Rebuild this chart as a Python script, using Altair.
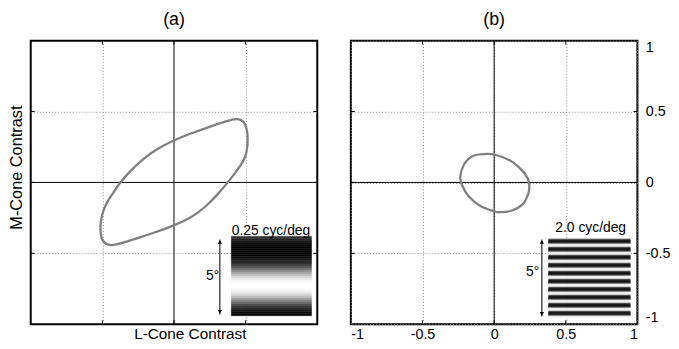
import altair as alt
import pandas as pd

# ---------------- data ----------------
# (a) detection contour, 0.25 cyc/deg  (L-cone, M-cone contrast)
a_L = [0.0, 0.124, 0.238, 0.353, 0.422, 0.472, 0.499, 0.515, 0.515, 0.499, 0.463, 0.422,
       0.376, 0.307, 0.227, 0.124, 0.0, -0.128, -0.243, -0.357, -0.431, -0.481, -0.509,
       -0.517, -0.504, -0.472, -0.426, -0.376, -0.312, -0.220, -0.105]
a_M = [0.298, 0.348, 0.389, 0.428, 0.449, 0.444, 0.412, 0.348, 0.257, 0.176, 0.115, 0.062,
       0.0, -0.082, -0.167, -0.247, -0.305, -0.351, -0.389, -0.426, -0.447, -0.435, -0.396,
       -0.316, -0.225, -0.144, -0.076, 0.0, 0.073, 0.165, 0.245]
# (b) detection contour, 2.0 cyc/deg
b_L = [-0.076, 0.0, 0.108, 0.188, 0.234, 0.245, 0.24, 0.2, 0.119, 0.039, 0.0,
       -0.0985, -0.179, -0.225, -0.236, -0.213, -0.156]
b_M = [0.20, 0.197, 0.156, 0.092, 0.03, -0.016, -0.073, -0.153, -0.2, -0.21, -0.204,
       -0.165, -0.096, -0.016, 0.041, 0.121, 0.183]

grid_values = [-0.5, 0.5]
tick_values = [-0.5, 0, 0.5]
b_label_values = [-1, -0.5, 0, 0.5, 1]

titles = ["(a)", "(b)"]
x_title = "L-Cone Contrast"
y_title = "M-Cone Contrast"
inset_labels = ["0.25 cyc/deg", "2.0 cyc/deg"]
size_label = "5°"

# grating luminance, rows from top to bottom (0 = black, 1 = white)
a_lum = [0.22, 0.15, 0.08, 0.04, 0.02, 0.0, 0.0, 0.0, 0.0, 0.02, 0.04, 0.07, 0.12, 0.18,
         0.26, 0.35, 0.45, 0.55, 0.65, 0.75, 0.84, 0.91, 0.96, 0.99, 1.0, 1.0, 0.99, 0.96,
         0.91, 0.84, 0.75, 0.64, 0.52, 0.41, 0.3, 0.21, 0.14, 0.08, 0.04, 0.02]
b_cycle_lum = [0.72, 0.1, 0.0, 0.0, 0.12, 0.6, 1.0, 0.95]
b_cycles = 10
b_lum = b_cycle_lum * b_cycles

FONT = "Liberation Sans"
W = 290
H = 287
GRAY = "#808080"


def hexgray(v):
    g = int(round(255 * v))
    return f"#{g:02x}{g:02x}{g:02x}"


def grating_df(lums, x0, x1, ytop, ybot):
    n = len(lums)
    step = (ytop - ybot) / n
    return pd.DataFrame({
        "x": [x0] * n, "x2": [x1] * n,
        "y": [ytop - i * step for i in range(n)],
        "y2": [ytop - (i + 1) * step for i in range(n)],
        "c": [hexgray(v) for v in lums],
    })


def panel(title, L, M, interp, lums, box, label, label_pos, arrow, five_pos, x_axis, y_axis):
    sc = alt.Scale(domain=[-1, 1], nice=False, zero=False)

    def X(f="x"):
        return alt.X(f"{f}:Q", scale=sc, axis=x_axis)

    def Y(f="y"):
        return alt.Y(f"{f}:Q", scale=sc, axis=y_axis)

    zero = pd.DataFrame({"x": [0.0], "y": [0.0]})
    vline = alt.Chart(zero).mark_rule(color="black", strokeWidth=1).encode(x=X())
    hline = alt.Chart(zero).mark_rule(color="black", strokeWidth=1).encode(y=Y())

    tk = pd.DataFrame({"x": tick_values, "y": tick_values})
    tb = alt.Chart(tk).mark_rule(color="black", strokeWidth=1).encode(
        x=X(), y=alt.value(H), y2=alt.value(H - 4))
    tt = alt.Chart(tk).mark_rule(color="black", strokeWidth=1).encode(
        x=X(), y=alt.value(0), y2=alt.value(4))
    tl = alt.Chart(tk).mark_rule(color="black", strokeWidth=1).encode(
        y=Y(), x=alt.value(0), x2=alt.value(4))
    tr = alt.Chart(tk).mark_rule(color="black", strokeWidth=1).encode(
        y=Y(), x=alt.value(W), x2=alt.value(W - 4))

    ell = pd.DataFrame({"x": L, "y": M, "i": list(range(len(L)))})
    contour = alt.Chart(ell).mark_line(
        color=GRAY, strokeWidth=2.3, interpolate=interp
    ).encode(x=X(), y=Y(), order="i:Q")

    g = grating_df(lums, *box)
    grating = alt.Chart(g).mark_rect(strokeWidth=0.4).encode(
        x=X(), x2="x2", y=Y(), y2="y2",
        color=alt.Color("c:N", scale=None),
        stroke=alt.Stroke("c:N", scale=None),
    )

    ax, atop, abot, ctop, cbot = arrow
    ar = pd.DataFrame({"x": [ax], "y": [atop], "y2": [abot]})
    arrow_line = alt.Chart(ar).mark_rule(color="#333333", strokeWidth=1.3).encode(
        x=X(), y=Y(), y2="y2")
    heads = pd.DataFrame({"x": [ax, ax], "y": [ctop, cbot],
                          "s": ["triangle-up", "triangle-down"]})
    arrow_heads = alt.Chart(heads).mark_point(
        filled=True, color="black", size=18, opacity=1
    ).encode(x=X(), y=Y(), shape=alt.Shape("s:N", scale=None))

    lab = pd.DataFrame({"x": [label_pos[0]], "y": [label_pos[1]], "t": [label]})
    lab_text = alt.Chart(lab).mark_text(
        font=FONT, fontSize=14, color="black", align="center", baseline="middle"
    ).encode(x=X(), y=Y(), text="t:N")

    five = pd.DataFrame({"x": [five_pos[0]], "y": [five_pos[1]], "t": [size_label]})
    five_text = alt.Chart(five).mark_text(
        font=FONT, fontSize=14, color="black", align="right", baseline="middle"
    ).encode(x=X(), y=Y(), text="t:N")

    return alt.layer(
        vline, hline, contour, grating, arrow_line, arrow_heads, lab_text, five_text,
        tb, tt, tl, tr,
    ).properties(
        width=W, height=H,
        title=alt.TitleParams(title, font=FONT, fontSize=18, fontWeight="normal",
                              color="black", anchor="middle", offset=11),
    )


grid_kw = dict(grid=True, gridDash=[1, 2], gridColor="#8a8a8a", gridWidth=1,
               ticks=False, domain=False)

ax_a_x = alt.Axis(values=grid_values, labels=False, title=x_title, titlePadding=2,
                  titleX=161, titleFontSize=15.5, **grid_kw)
ax_a_y = alt.Axis(values=grid_values, labels=False, title=y_title, titlePadding=6,
                  titleY=128, **grid_kw)
ax_b_x = alt.Axis(values=b_label_values, labels=True, title=None, labelPadding=3,
                  labelExpr="'' + datum.value", labelFlush=True, **grid_kw)
ax_b_y = alt.Axis(values=b_label_values, labels=True, title=None, orient="right",
                  labelPadding=8, labelExpr="'' + datum.value", labelFlush=True, **grid_kw)

pa = panel(titles[0], a_L, a_M, "basis-closed", a_lum, (0.40, 0.96, -0.38, -0.94),
           inset_labels[0], (0.677, -0.34),
           (0.32, -0.402, -0.931, -0.42, -0.913), (0.315, -0.66), ax_a_x, ax_a_y)
pb = panel(titles[1], b_L, b_M, "cardinal-closed", b_lum, (0.38, 0.95, -0.395, -0.96),
           inset_labels[1], (0.674, -0.325),
           (0.333, -0.402, -0.945, -0.42, -0.927), (0.315, -0.63), ax_b_x, ax_b_y)

chart = alt.hconcat(pa, pb, spacing=30).properties(
    padding={"left": 0, "top": 0, "right": 0, "bottom": 0}
).configure_view(
    stroke="black", strokeWidth=2
).configure_axis(
    labelFont=FONT, titleFont=FONT, labelFontSize=14.5, titleFontSize=16.5,
    titleFontWeight="normal", labelColor="black", titleColor="black",
)

chart.save("out.html", embed_options={"renderer": "svg", "actions": False})
